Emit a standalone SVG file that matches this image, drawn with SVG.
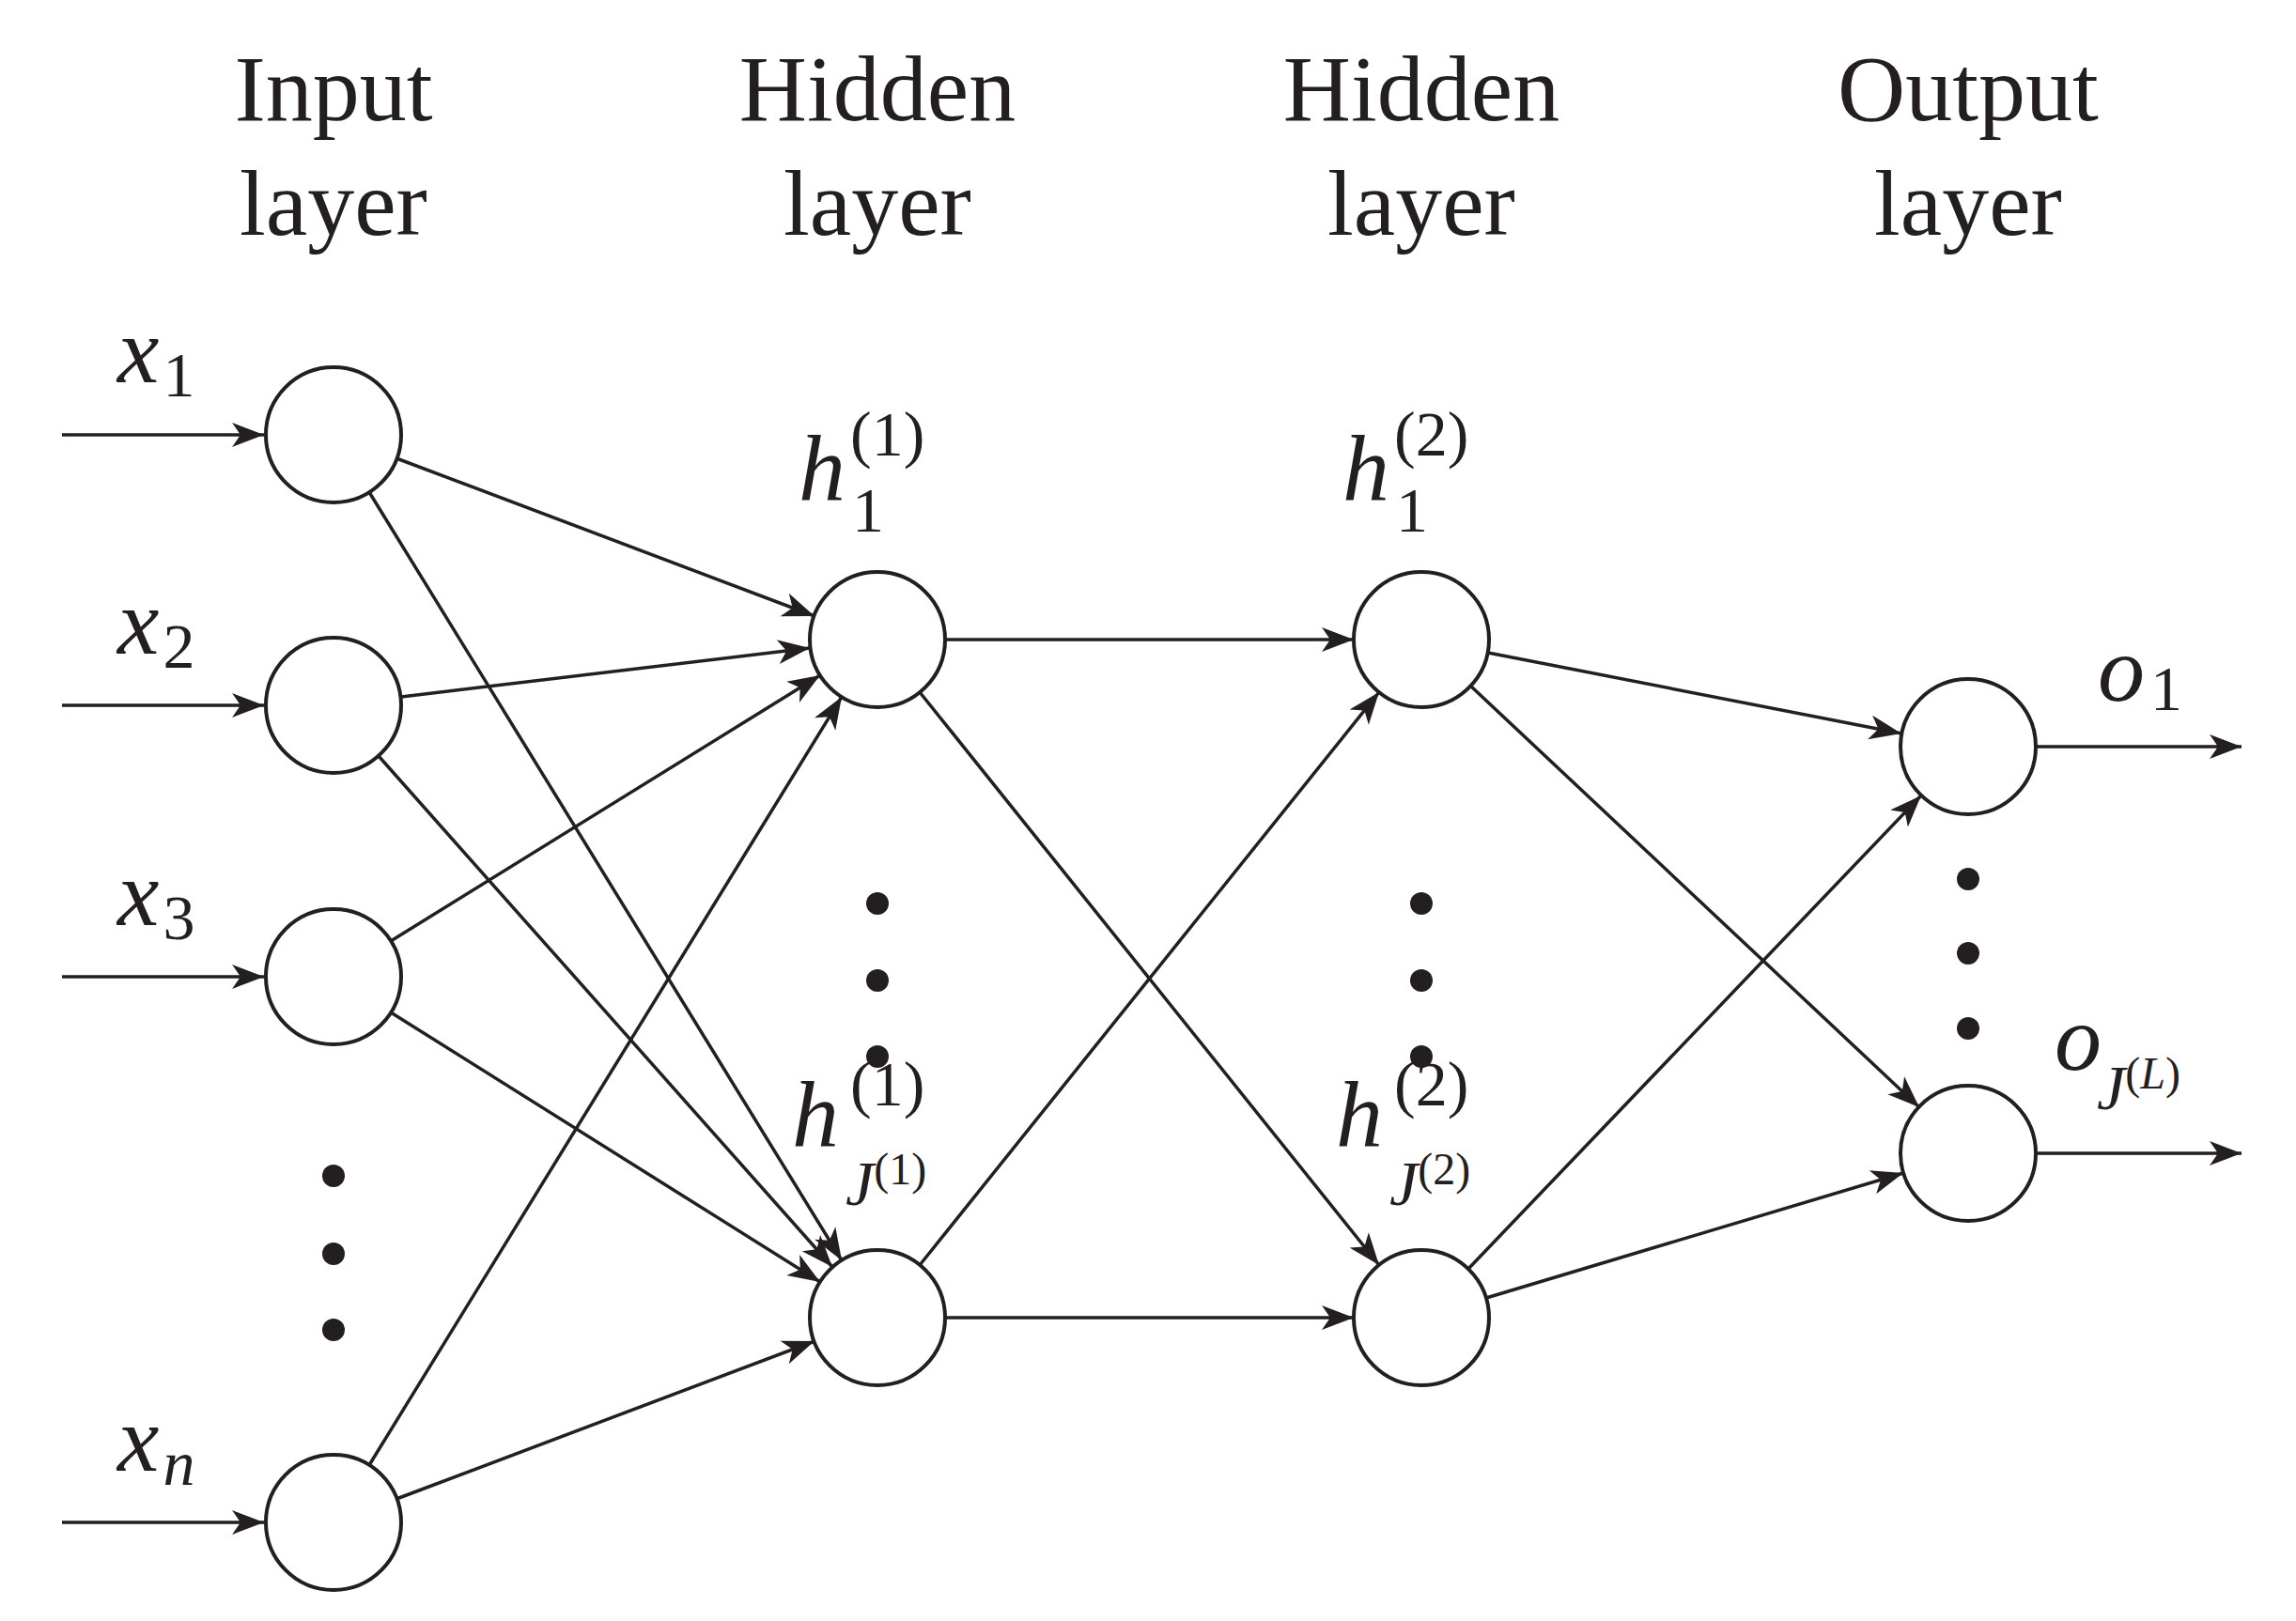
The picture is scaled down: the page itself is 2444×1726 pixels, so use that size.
<svg xmlns="http://www.w3.org/2000/svg" width="2444" height="1726" viewBox="0 0 2444 1726">
<style>
.n{fill:#fff;stroke:#231f20;stroke-width:4}
.e{stroke:#231f20;stroke-width:3.5;fill:none;marker-end:url(#a)}
.t{font-family:"Liberation Serif",serif;font-size:100px;fill:#231f20;text-anchor:middle}
.m{font-family:"Liberation Serif",serif;font-style:italic;fill:#231f20}
.r{font-family:"Liberation Serif",serif;font-style:normal;fill:#231f20}
.d{fill:#231f20}
</style>
<defs>
<marker id="a" markerUnits="userSpaceOnUse" markerWidth="40" markerHeight="30" viewBox="-36 -15 40 30" refX="0" refY="0" orient="auto">
<path d="M0,0 L-34,-13 L-25,0 L-34,13 Z" fill="#231f20"/>
</marker>
</defs>
<g id="headers">
<text class="t" x="355" y="128">Input</text><text class="t" x="355" y="250">layer</text>
<text class="t" x="934" y="128">Hidden</text><text class="t" x="934" y="250">layer</text>
<text class="t" x="1513" y="128">Hidden</text><text class="t" x="1513" y="250">layer</text>
<text class="t" x="2095" y="128">Output</text><text class="t" x="2095" y="250">layer</text>
</g>
<g id="connectors">
<line class="e" x1="66" y1="463" x2="281" y2="463"/>
<line class="e" x1="66" y1="751" x2="281" y2="751"/>
<line class="e" x1="66" y1="1040" x2="281" y2="1040"/>
<line class="e" x1="66" y1="1621" x2="281" y2="1621"/>
<line class="e" x1="422" y1="488" x2="867" y2="656"/>
<line class="e" x1="393" y1="524" x2="896" y2="1342"/>
<line class="e" x1="427" y1="742" x2="862" y2="690"/>
<line class="e" x1="403" y1="805" x2="886" y2="1349"/>
<line class="e" x1="416" y1="1002" x2="873" y2="719"/>
<line class="e" x1="416" y1="1078" x2="873" y2="1365"/>
<line class="e" x1="393" y1="1560" x2="896" y2="742"/>
<line class="e" x1="422" y1="1596" x2="867" y2="1428"/>
<line class="e" x1="1006" y1="681" x2="1441" y2="681"/>
<line class="e" x1="1006" y1="1403" x2="1441" y2="1403"/>
<line class="e" x1="979" y1="737" x2="1468" y2="1347"/>
<line class="e" x1="979" y1="1347" x2="1468" y2="737"/>
<line class="e" x1="1584" y1="695" x2="2024" y2="781"/>
<line class="e" x1="1565" y1="730" x2="2043" y2="1179"/>
<line class="e" x1="1563" y1="1351" x2="2045" y2="847"/>
<line class="e" x1="1582" y1="1382" x2="2026" y2="1249"/>
<line class="e" x1="2167" y1="795" x2="2386" y2="795"/>
<line class="e" x1="2167" y1="1228" x2="2386" y2="1228"/>
</g>
<g id="input1"><circle class="n" cx="355" cy="463" r="72"/><text class="m" x="125" y="407" font-size="100">x<tspan class="r" font-size="68" dx="4" dy="15">1</tspan></text></g>
<g id="input2"><circle class="n" cx="355" cy="751" r="72"/><text class="m" x="125" y="696" font-size="100">x<tspan class="r" font-size="68" dx="4" dy="15">2</tspan></text></g>
<g id="input3"><circle class="n" cx="355" cy="1040" r="72"/><text class="m" x="125" y="985" font-size="100">x<tspan class="r" font-size="68" dx="4" dy="15">3</tspan></text></g>
<g id="inputn"><circle class="n" cx="355" cy="1621" r="72"/><text class="m" x="125" y="1566" font-size="100">x<tspan font-size="68" dx="4" dy="15">n</tspan></text></g>
<g id="input-dots"><circle class="d" cx="355" cy="1252" r="12"/><circle class="d" cx="355" cy="1335" r="12"/><circle class="d" cx="355" cy="1416" r="12"/></g>
<g id="h1-1"><circle class="n" cx="934" cy="681" r="72"/>
<text class="m" x="850" y="532" font-size="100">h</text><text class="r" x="905" y="485" font-size="68">(1)</text><text class="r" x="907" y="566" font-size="68">1</text></g>
<g id="h1-J"><circle class="n" cx="934" cy="1403" r="72"/>
<text class="m" x="843" y="1220" font-size="100">h</text><text class="r" x="905" y="1177" font-size="68">(1)</text><text class="m" x="900" y="1283" font-size="68">J<tspan class="r" font-size="48" dy="-22">(1)</tspan></text></g>
<g id="h1-dots"><circle class="d" cx="934" cy="962" r="12"/><circle class="d" cx="934" cy="1044" r="12"/><circle class="d" cx="934" cy="1125" r="12"/></g>
<g id="h2-1"><circle class="n" cx="1513" cy="681" r="72"/>
<text class="m" x="1429" y="532" font-size="100">h</text><text class="r" x="1484" y="485" font-size="68">(2)</text><text class="r" x="1486" y="566" font-size="68">1</text></g>
<g id="h2-J"><circle class="n" cx="1513" cy="1403" r="72"/>
<text class="m" x="1422" y="1220" font-size="100">h</text><text class="r" x="1484" y="1177" font-size="68">(2)</text><text class="m" x="1479" y="1283" font-size="68">J<tspan class="r" font-size="48" dy="-22">(2)</tspan></text></g>
<g id="h2-dots"><circle class="d" cx="1513" cy="962" r="12"/><circle class="d" cx="1513" cy="1044" r="12"/><circle class="d" cx="1513" cy="1125" r="12"/></g>
<g id="out1"><circle class="n" cx="2095" cy="795" r="72"/><text class="m" x="2233" y="746" font-size="100">o<tspan class="r" font-size="68" dx="6" dy="10">1</tspan></text></g>
<g id="outJ"><circle class="n" cx="2095" cy="1228" r="72"/><text class="m" x="2187" y="1139" font-size="100">o</text><text class="m" x="2232" y="1181" font-size="68">J<tspan class="r" font-size="48" dy="-22">(</tspan><tspan font-size="48">L</tspan><tspan class="r" font-size="48">)</tspan></text></g>
<g id="out-dots"><circle class="d" cx="2095" cy="936" r="12"/><circle class="d" cx="2095" cy="1015" r="12"/><circle class="d" cx="2095" cy="1095" r="12"/></g>
</svg>
